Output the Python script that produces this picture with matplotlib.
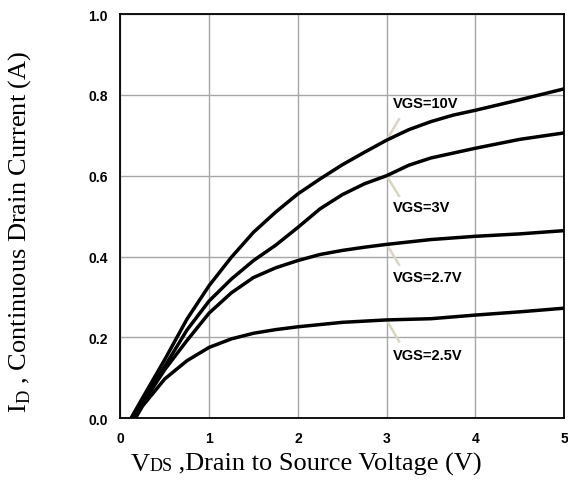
import matplotlib
matplotlib.use("Agg")
import matplotlib.pyplot as plt
from matplotlib.offsetbox import TextArea, HPacker, AnchoredOffsetbox

plt.rcParams['mathtext.fontset'] = 'custom'
plt.rcParams['mathtext.rm'] = 'Liberation Serif'

# curves
vds_10 = [0.12, 0.25, 0.5, 0.75, 1.0, 1.25, 1.5, 1.75, 2.0, 2.25, 2.5, 2.75, 3.0, 3.25, 3.5, 3.75, 4.0, 4.5, 5.0]
id_10 = [0.0, 0.05, 0.145, 0.245, 0.328, 0.398, 0.46, 0.51, 0.555, 0.592, 0.627, 0.658, 0.688, 0.714, 0.734, 0.75, 0.762, 0.788, 0.815]

vds_3 = [0.14, 0.25, 0.5, 0.75, 1.0, 1.25, 1.5, 1.75, 2.0, 2.25, 2.5, 2.75, 3.0, 3.25, 3.5, 4.0, 4.5, 5.0]
id_3 = [0.0, 0.042, 0.128, 0.218, 0.29, 0.344, 0.39, 0.428, 0.472, 0.518, 0.553, 0.58, 0.6, 0.626, 0.644, 0.668, 0.69, 0.706]

vds_27 = [0.15, 0.25, 0.5, 0.75, 1.0, 1.25, 1.5, 1.75, 2.0, 2.25, 2.5, 2.75, 3.0, 3.5, 4.0, 4.5, 5.0]
id_27 = [0.0, 0.036, 0.12, 0.192, 0.26, 0.31, 0.348, 0.372, 0.39, 0.405, 0.415, 0.423, 0.43, 0.442, 0.45, 0.456, 0.464]

vds_25 = [0.17, 0.25, 0.5, 0.75, 1.0, 1.25, 1.5, 1.75, 2.0, 2.5, 3.0, 3.5, 4.0, 4.5, 5.0]
id_25 = [0.0, 0.03, 0.097, 0.142, 0.175, 0.196, 0.21, 0.219, 0.226, 0.237, 0.243, 0.246, 0.255, 0.263, 0.272]

labels = ['VGS=10V', 'VGS=3V', 'VGS=2.7V', 'VGS=2.5V']
label_y = [0.78, 0.522, 0.35, 0.155]
leader_from = [0.688, 0.6, 0.43, 0.243]
leader_to = [0.74, 0.55, 0.38, 0.19]

fig = plt.figure(figsize=(5.68, 4.89), dpi=100)
ax = fig.add_axes([0.212, 0.143, 0.781, 0.826])

for x, y in [(vds_10, id_10), (vds_3, id_3), (vds_27, id_27), (vds_25, id_25)]:
    ax.plot(x, y, color='black', lw=2.5, solid_capstyle='round', solid_joinstyle='round', zorder=3)

for lab, ly, y0, y1 in zip(labels, label_y, leader_from, leader_to):
    ax.plot([3.0, 3.14], [y0, y1], color='#d9d5c3', lw=1.8, zorder=2)
    ax.text(3.07, ly, lab, fontsize=10.5, fontweight='bold', family='Liberation Sans',
            va='center', ha='left')

ax.set_xlim(0, 5)
ax.set_ylim(0, 1.0)
ax.set_xticks([0, 1, 2, 3, 4, 5])
ax.set_yticks([0.0, 0.2, 0.4, 0.6, 0.8, 1.0])
ax.set_yticklabels(['0.0', '0.2', '0.4', '0.6', '0.8', '1.0'])
ax.grid(True, color='#a6a6a6', lw=1.0)
ax.set_axisbelow(True)
ax.tick_params(length=0, pad=9, labelsize=10)
for t in ax.get_xticklabels() + ax.get_yticklabels():
    t.set_fontweight('bold')
    t.set_family('Liberation Sans')
for s in ax.spines.values():
    s.set_linewidth(1.3)

fig.text(0.034, 0.526, r'I$_{\mathrm{D}}$ , Continuous Drain Current (A)', family='Liberation Serif',
         fontsize=19, rotation=90, ha='center', va='center')

# x label: "DS" small but on the baseline
parts = [TextArea('V', textprops=dict(family='Liberation Serif', size=19)),
         TextArea('DS', textprops=dict(family='Liberation Serif', size=13)),
         TextArea(' ,Drain to Source Voltage (V)', textprops=dict(family='Liberation Serif', size=19))]
box = HPacker(children=parts, align='baseline', pad=0, sep=0)
anc = AnchoredOffsetbox(loc='center', child=box, frameon=False,
                        bbox_to_anchor=(0.539, 0.05), bbox_transform=fig.transFigure, pad=0, borderpad=0)
fig.add_artist(anc)

fig.savefig('out.png', dpi=100)
